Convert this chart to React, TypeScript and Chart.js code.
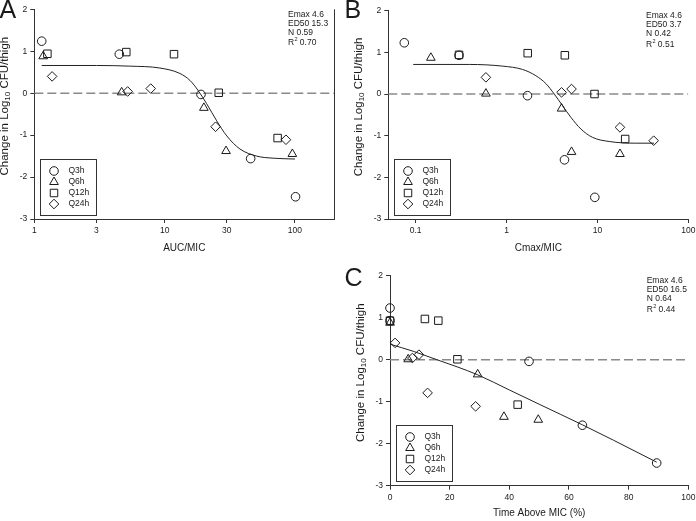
import React, { useEffect, useRef } from 'react';
import { Chart, registerables } from 'chart.js';

Chart.register(...registerables);

const FONT = '"Liberation Sans", Arial, Helvetica, sans-serif';
const INK = '#1a1a1a';
const AXIS = '#333333';

// ---------- shared ----------
const seriesLabels = ['Q3h', 'Q6h', 'Q12h', 'Q24h'];
const seriesStyles = ['circle', 'triangle', 'rect', 'rectRot'];
const seriesRadius = [4.3, 5, 5.3, 4.8];
const yTicks = [-3, -2, -1, 0, 1, 2];
const zeroLineY = [0, 0];

// ---------- Panel A: AUC/MIC ----------
const aucTicks = [1, 3, 10, 30, 100];
const aucQ3hX = [1.14, 4.49, 19.0, 45.7, 101];
const aucQ3hY = [1.24, 0.93, -0.03, -1.56, -2.47];
const aucQ6hX = [1.17, 4.68, 20.0, 29.6, 95.5];
const aucQ6hY = [0.88, 0.02, -0.35, -1.38, -1.45];
const aucQ12hX = [1.26, 5.08, 11.8, 26.0, 73.6];
const aucQ12hY = [0.94, 0.98, 0.93, 0.01, -1.07];
const aucQ24hX = [1.37, 5.2, 7.82, 24.6, 85.3];
const aucQ24hY = [0.4, 0.04, 0.11, -0.8, -1.11];
const aucFitX = [1.14, 3, 5.4, 9.2, 13.1, 15.7, 18.1, 21, 25.1, 30, 37.8, 50.8, 68, 100];
const aucFitY = [0.66, 0.66, 0.645, 0.6, 0.47, 0.3, 0.06, -0.25, -0.66, -1.02, -1.33, -1.5, -1.55, -1.57];
const aucStats = ['Emax 4.6', 'ED50 15.3', 'N 0.59'];
const aucR2 = '0.70';

// ---------- Panel B: Cmax/MIC ----------
const cmaxTicks = [0.1, 1, 10, 100];
const cmaxQ3hX = [0.075, 0.3, 1.7, 4.34, 9.36];
const cmaxQ3hY = [1.23, 0.93, -0.04, -1.58, -2.48];
const cmaxQ6hX = [0.147, 0.593, 4.03, 5.19, 17.7];
const cmaxQ6hY = [0.87, 0.01, -0.35, -1.39, -1.44];
const cmaxQ12hX = [0.3, 1.71, 4.38, 9.29, 20.2];
const cmaxQ12hY = [0.94, 0.98, 0.93, 0.0, -1.08];
const cmaxQ24hX = [0.593, 4.03, 5.19, 17.7, 41.6];
const cmaxQ24hY = [0.4, 0.04, 0.12, -0.8, -1.12];
const cmaxFitX = [0.094, 0.39, 0.9, 1.5, 2.1, 2.71, 3.35, 4.13, 5.11, 6.58, 8.83, 13.5, 26.5, 42];
const cmaxFitY = [0.71, 0.71, 0.67, 0.59, 0.44, 0.25, 0.0, -0.28, -0.56, -0.84, -1.04, -1.14, -1.18, -1.18];
const cmaxStats = ['Emax 4.6', 'ED50 3.7', 'N 0.42'];
const cmaxR2 = '0.51';

// ---------- Panel C: Time above MIC ----------
const timeTicks = [0, 20, 40, 60, 80, 100];
const timeQ3hX = [0, 0, 46.6, 64.5, 89.4];
const timeQ3hY = [1.23, 0.93, -0.04, -1.56, -2.46];
const timeQ6hX = [0, 6.1, 29.4, 38.2, 49.7];
const timeQ6hY = [0.88, 0.01, -0.35, -1.36, -1.43];
const timeQ12hX = [0, 11.7, 16.2, 22.6, 42.8];
const timeQ12hY = [0.93, 0.97, 0.93, 0.01, -1.07];
const timeQ24hX = [1.7, 7.5, 9.7, 12.6, 28.7];
const timeQ24hY = [0.4, 0.04, 0.12, -0.79, -1.11];
const timeFitX = [0, 7.8, 15.7, 22.5, 29.4, 40, 50, 64.5, 75, 89.4];
const timeFitY = [0.37, 0.2, 0.0, -0.17, -0.36, -0.72, -1.06, -1.55, -1.92, -2.44];
const timeStats = ['Emax 4.6', 'ED50 16.5', 'N 0.64'];
const timeR2 = '0.44';

type Panel = {
  letter: string;
  xTitle: string;
  xType: 'logarithmic' | 'linear';
  xMin: number;
  xMax: number;
  xTicks: number[];
  xs: number[][];
  ys: number[][];
  fitX: number[];
  fitY: number[];
  stats: string[];
  r2: string;
  canvas: { left: number; top: number; width: number; height: number };
  area: { left: number; right: number; top: number; bottom: number };
  letterY: number;
  statsX: number;
  xTitleOffset: number;
  rightBorder: boolean;
};

const panels: Panel[] = [
  {
    letter: 'A', xTitle: 'AUC/MIC', xType: 'logarithmic', xMin: 1, xMax: 200, xTicks: aucTicks,
    xs: [aucQ3hX, aucQ6hX, aucQ12hX, aucQ24hX], ys: [aucQ3hY, aucQ6hY, aucQ12hY, aucQ24hY],
    fitX: aucFitX, fitY: aucFitY, stats: aucStats, r2: aucR2,
    canvas: { left: 0, top: 0, width: 345, height: 260 },
    area: { left: 34.3, right: 334.2, top: 9.3, bottom: 219 },
    letterY: 18, statsX: 288, xTitleOffset: 29, rightBorder: true,
  },
  {
    letter: 'B', xTitle: 'Cmax/MIC', xType: 'logarithmic', xMin: 0.05, xMax: 100, xTicks: cmaxTicks,
    xs: [cmaxQ3hX, cmaxQ6hX, cmaxQ12hX, cmaxQ24hX], ys: [cmaxQ3hY, cmaxQ6hY, cmaxQ12hY, cmaxQ24hY],
    fitX: cmaxFitX, fitY: cmaxFitY, stats: cmaxStats, r2: cmaxR2,
    canvas: { left: 345, top: 0, width: 351, height: 260 },
    area: { left: 43.3, right: 343.3, top: 10.7, bottom: 219 },
    letterY: 18, statsX: 301, xTitleOffset: 29, rightBorder: false,
  },
  {
    letter: 'C', xTitle: 'Time Above MIC (%)', xType: 'linear', xMin: 0, xMax: 100, xTicks: timeTicks,
    xs: [timeQ3hX, timeQ6hX, timeQ12hX, timeQ24hX], ys: [timeQ3hY, timeQ6hY, timeQ12hY, timeQ24hY],
    fitX: timeFitX, fitY: timeFitY, stats: timeStats, r2: timeR2,
    canvas: { left: 345, top: 260, width: 351, height: 261 },
    area: { left: 45, right: 343.3, top: 15.7, bottom: 225.7 },
    letterY: 26, statsX: 301.7, xTitleOffset: 28, rightBorder: false,
  },
];

function drawMarker(ctx: CanvasRenderingContext2D, style: string, x: number, y: number, r: number) {
  ctx.beginPath();
  if (style === 'circle') {
    ctx.arc(x, y, r, 0, Math.PI * 2);
  } else if (style === 'triangle') {
    ctx.moveTo(x, y - r);
    ctx.lineTo(x + 0.866 * r, y + 0.5 * r);
    ctx.lineTo(x - 0.866 * r, y + 0.5 * r);
    ctx.closePath();
  } else if (style === 'rect') {
    const s = Math.SQRT1_2 * r;
    ctx.rect(x - s, y - s, 2 * s, 2 * s);
  } else {
    ctx.moveTo(x - r, y);
    ctx.lineTo(x, y - r);
    ctx.lineTo(x + r, y);
    ctx.lineTo(x, y + r);
    ctx.closePath();
  }
  ctx.stroke();
}

function fmtTick(v: number) {
  return String(v);
}

function decorPlugin(p: Panel) {
  return {
    id: 'decor' + p.letter,
    afterDraw(chart: any) {
      const ctx: CanvasRenderingContext2D = chart.ctx;
      const ca = chart.chartArea;
      ctx.save();
      ctx.fillStyle = INK;
      ctx.strokeStyle = AXIS;

      // panel letter
      ctx.font = `25px ${FONT}`;
      ctx.textAlign = 'left';
      ctx.textBaseline = 'alphabetic';
      ctx.fillText(p.letter, -0.5, p.letterY);

      // right border (panel A)
      if (p.rightBorder) {
        ctx.lineWidth = 1;
        const rx = Math.round(ca.right) + 0.5;
        ctx.beginPath();
        ctx.moveTo(rx, ca.top);
        ctx.lineTo(rx, ca.bottom);
        ctx.stroke();
      }

      // x title
      ctx.font = `10px ${FONT}`;
      ctx.textAlign = 'center';
      ctx.textBaseline = 'middle';
      ctx.fillText(p.xTitle, (ca.left + ca.right) / 2, ca.bottom + p.xTitleOffset);

      // y title with subscript
      const p1 = 'Change in Log';
      const sub = '10';
      const p2 = ' CFU/thigh';
      const mainFont = `11.5px ${FONT}`;
      const subFont = `8px ${FONT}`;
      ctx.font = mainFont;
      const w1 = ctx.measureText(p1).width;
      const w2 = ctx.measureText(p2).width;
      ctx.font = subFont;
      const ws = ctx.measureText(sub).width;
      const total = w1 + ws + w2;
      ctx.save();
      ctx.translate(ca.left - 29.5, (ca.top + ca.bottom) / 2 - 8);
      ctx.rotate(-Math.PI / 2);
      ctx.textAlign = 'left';
      ctx.textBaseline = 'middle';
      let sx = -total / 2;
      ctx.font = mainFont;
      ctx.fillText(p1, sx, 0);
      sx += w1;
      ctx.font = subFont;
      ctx.fillText(sub, sx, 3);
      sx += ws;
      ctx.font = mainFont;
      ctx.fillText(p2, sx, 0);
      ctx.restore();

      // stats block
      ctx.textAlign = 'left';
      ctx.textBaseline = 'middle';
      ctx.font = `8.5px ${FONT}`;
      const sy = ca.top + 5;
      p.stats.forEach((s, i) => ctx.fillText(s, p.statsX, sy + i * 9.2));
      const ry = sy + 3 * 9.2 + 1;
      ctx.fillText('R', p.statsX, ry);
      const wR = ctx.measureText('R').width;
      ctx.font = `5.5px ${FONT}`;
      ctx.fillText('2', p.statsX + wR + 0.3, ry - 3);
      const w2s = ctx.measureText('2').width;
      ctx.font = `8.5px ${FONT}`;
      ctx.fillText(' ' + p.r2, p.statsX + wR + w2s + 0.3, ry);

      // legend box
      const bw = 56;
      const bh = 56;
      const bl = Math.round(ca.left + 5.5) + 0.5;
      const bt = Math.round(ca.bottom - 4.5 - bh) + 0.5;
      ctx.lineWidth = 1;
      ctx.strokeStyle = AXIS;
      ctx.strokeRect(bl, bt, bw, bh);
      ctx.strokeStyle = INK;
      ctx.font = `8.5px ${FONT}`;
      seriesLabels.forEach((lab, i) => {
        const cy = bt + 11.5 + i * 11;
        drawMarker(ctx, seriesStyles[i], bl + 13.5, cy, seriesRadius[i]);
        ctx.fillText(lab, bl + 28, cy);
      });

      ctx.restore();
    },
  };
}

function buildConfig(p: Panel): any {
  const pts = (xs: number[], ys: number[]) => xs.map((x, i) => ({ x, y: ys[i] }));
  const datasets: any[] = [];
  seriesLabels.forEach((lab, i) => {
    datasets.push({
      type: 'scatter',
      label: lab,
      data: pts(p.xs[i], p.ys[i]),
      pointStyle: seriesStyles[i],
      pointRadius: seriesRadius[i],
      pointBorderWidth: 1,
      pointBorderColor: INK,
      pointBackgroundColor: 'rgba(0,0,0,0)',
      showLine: false,
      clip: false,
    });
  });
  datasets.push({
    type: 'line',
    label: 'fit',
    data: pts(p.fitX, p.fitY),
    borderColor: '#222222',
    borderWidth: 1,
    pointRadius: 0,
    cubicInterpolationMode: 'monotone',
    fill: false,
    clip: false,
  });
  datasets.push({
    type: 'line',
    label: 'zero',
    data: pts([p.xMin, p.xMax], zeroLineY),
    borderColor: '#8a8a8a',
    borderWidth: 1.5,
    borderDash: [9, 4],
    pointRadius: 0,
    fill: false,
  });

  const a = p.area;
  const tickFont = { family: FONT, size: 8.5 };
  return {
    type: 'scatter',
    data: { datasets },
    options: {
      responsive: false,
      animation: false,
      events: [],
      layout: {
        padding: {
          left: 0,
          top: a.top,
          right: p.canvas.width - a.right,
          bottom: 0,
        },
      },
      plugins: { legend: { display: false }, tooltip: { enabled: false }, title: { display: false } },
      scales: {
        x: {
          type: p.xType,
          min: p.xMin,
          max: p.xMax,
          border: { display: true, color: AXIS, width: 1 },
          grid: { drawOnChartArea: false, drawTicks: true, tickLength: 4, color: AXIS },
          ticks: {
            font: tickFont,
            color: INK,
            padding: 3,
            autoSkip: false,
            maxRotation: 0,
            minRotation: 0,
            callback: (v: number) => fmtTick(v),
          },
          afterBuildTicks: (s: any) => {
            s.ticks = p.xTicks.map((v) => ({ value: v }));
          },
          afterFit: (s: any) => {
            s.height = p.canvas.height - a.bottom;
            s.paddingLeft = 0;
            s.paddingRight = 0;
          },
        },
        y: {
          type: 'linear',
          min: -3,
          max: 2,
          border: { display: true, color: AXIS, width: 1 },
          grid: { drawOnChartArea: false, drawTicks: true, tickLength: 4, color: AXIS },
          ticks: { font: tickFont, color: INK, padding: 3 },
          afterBuildTicks: (s: any) => {
            s.ticks = yTicks.map((v) => ({ value: v }));
          },
          afterFit: (s: any) => {
            s.width = a.left;
            s.paddingTop = 0;
            s.paddingBottom = 0;
          },
        },
      },
    },
    plugins: [decorPlugin(p)],
  };
}

function PanelChart({ p }: { p: Panel }) {
  const ref = useRef<HTMLCanvasElement | null>(null);
  useEffect(() => {
    if (!ref.current) return;
    const chart = new Chart(ref.current, buildConfig(p));
    return () => chart.destroy();
  }, [p]);
  return (
    <canvas
      ref={ref}
      width={p.canvas.width}
      height={p.canvas.height}
      style={{
        position: 'absolute',
        left: p.canvas.left,
        top: p.canvas.top,
        width: p.canvas.width,
        height: p.canvas.height,
      }}
    />
  );
}

export default function App() {
  return (
    <div
      style={{
        position: 'fixed',
        left: 0,
        top: 0,
        width: 696,
        height: 521,
        background: '#ffffff',
        overflow: 'hidden',
      }}
    >
      {panels.map((p) => (
        <PanelChart key={p.letter} p={p} />
      ))}
    </div>
  );
}
